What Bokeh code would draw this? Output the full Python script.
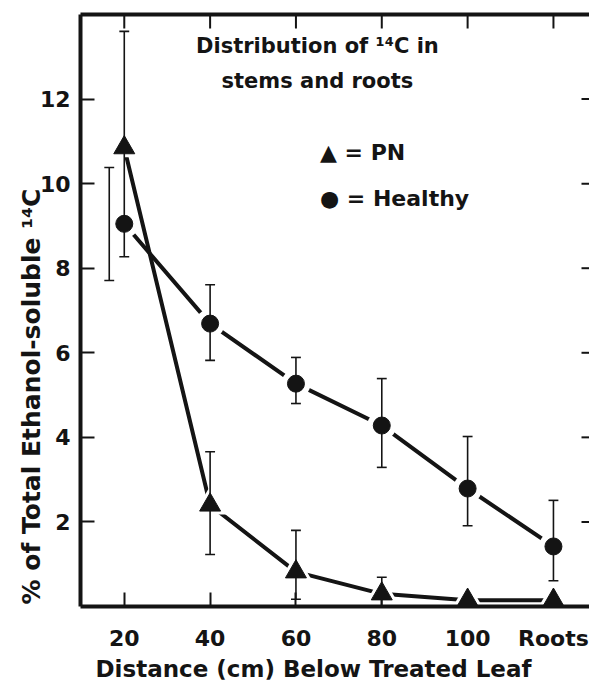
import math
from bokeh.plotting import figure
from bokeh.models import Range1d, FixedTicker, LinearAxis, Label, Title
from bokeh.embed import file_html
from bokeh.resources import INLINE

# ---- data ----
positions = [20, 40, 60, 80, 100, 120]
tick_labels = ["20", "40", "60", "80", "100", "Roots"]

pn = [10.85, 2.4, 0.82, 0.3, 0.15, 0.15]
pn_err_x = [20, 40, 60, 80]
pn_upper = [13.6, 3.66, 1.80, 0.69]
pn_lower = [8.27, 1.23, 0.17, 0.0]

healthy = [9.05, 6.69, 5.27, 4.28, 2.79, 1.42]
healthy_err_x = [16.5, 40, 60, 80, 100, 120]
healthy_upper = [10.38, 7.61, 5.89, 5.39, 4.02, 2.51]
healthy_lower = [7.71, 5.82, 4.80, 3.29, 1.91, 0.61]

y_ticks = [2, 4, 6, 8, 10, 12]

X0, X1 = 9.8, 128.4
Y0, Y1 = 0.0, 14.0

FONT = "DejaVu Sans"
BLACK = "#141414"

p = figure(width=589, height=685, output_backend="svg", toolbar_location=None,
           x_range=Range1d(X0, X1), y_range=Range1d(Y0, Y1),
           min_border_left=80, min_border_top=14, min_border_bottom=79, min_border_right=0)
p.outline_line_color = None
p.grid.visible = False
p.background_fill_color = "white"
p.border_fill_color = "white"

def style_axis(ax):
    ax.minor_tick_line_color = None
    ax.major_tick_in = 14
    ax.major_tick_out = 0
    ax.major_tick_line_width = 2
    ax.axis_line_width = 4
    ax.axis_line_color = BLACK
    ax.major_tick_line_color = BLACK
    ax.major_label_text_font = FONT
    ax.major_label_text_font_style = "bold"
    ax.major_label_text_font_size = "22px"
    ax.major_label_text_color = BLACK

# bottom axis
xa = p.xaxis[0]
style_axis(xa)
xa.ticker = FixedTicker(ticks=positions)
xa.major_label_overrides = {k: v for k, v in zip(positions, tick_labels)}
xa.major_label_standoff = 19

# left axis
ya = p.yaxis[0]
style_axis(ya)
ya.ticker = FixedTicker(ticks=y_ticks)
ya.major_label_standoff = 10

# top spine (no labels); its inward ticks are drawn below
ta = LinearAxis(ticker=FixedTicker(ticks=[]))
style_axis(ta)
p.add_layout(ta, "above")

# inward tick marks along the top and the (cut-off) right side
top_len = 14 / (592 / (Y1 - Y0))
right_len = 8 / (509 / (X1 - X0))
p.segment(positions, [Y1] * len(positions), positions, [Y1 - top_len] * len(positions),
          line_width=2, line_color=BLACK)
p.segment([X1] * len(y_ticks), y_ticks, [X1 - right_len] * len(y_ticks), y_ticks,
          line_width=2, line_color=BLACK)

# connecting lines
p.line(positions, pn, line_width=4, line_color=BLACK)
p.line(positions, healthy, line_width=4, line_color=BLACK)

# white halos around markers (gaps in the lines)
p.scatter(positions, pn, marker="triangle", size=33, fill_color="white", line_color=None)
p.scatter(positions, healthy, marker="circle", size=29, fill_color="white", line_color=None)

# error bars
cap = 1.15
def err(xs, lo, hi):
    p.segment(xs, lo, xs, hi, line_width=1.6, line_color=BLACK)
    p.segment([x - cap for x in xs], hi, [x + cap for x in xs], hi, line_width=1.6, line_color=BLACK)
    p.segment([x - cap for x in xs], lo, [x + cap for x in xs], lo, line_width=1.6, line_color=BLACK)

err(healthy_err_x, healthy_lower, healthy_upper)
err(pn_err_x, pn_lower, pn_upper)

# markers
p.scatter(positions, pn, marker="triangle", size=21, fill_color=BLACK, line_color=BLACK)
p.scatter(positions, healthy, marker="circle", size=17, fill_color=BLACK, line_color=BLACK)

def lab(x, y, text, size, align="center"):
    p.add_layout(Label(x=x, y=y, text=text, text_font=FONT, text_font_style="bold",
                       text_font_size=size, text_color=BLACK, text_align=align,
                       text_baseline="middle"))

# chart title
lab(65.0, 13.26, "Distribution of \u00b9\u2074C in", "21px")
lab(65.0, 12.43, "stems and roots", "21px")

# legend
lab(65.6, 10.73, "\u25b2 = PN", "22px", align="left")
lab(65.6, 9.65, "\u25cf = Healthy", "22px", align="left")

# axis titles
p.add_layout(Title(text="Distance (cm) Below Treated Leaf", align="left", offset=15,
                   text_font=FONT, text_font_style="bold", text_font_size="23px",
                   text_color=BLACK, standoff=0), "below")
p.add_layout(Title(text="% of Total Ethanol-soluble \u00b9\u2074C", align="left", offset=2,
                   text_font=FONT, text_font_style="bold", text_font_size="25px",
                   text_color=BLACK, standoff=-18), "left")

open("out.html", "w").write(file_html(p, INLINE))
